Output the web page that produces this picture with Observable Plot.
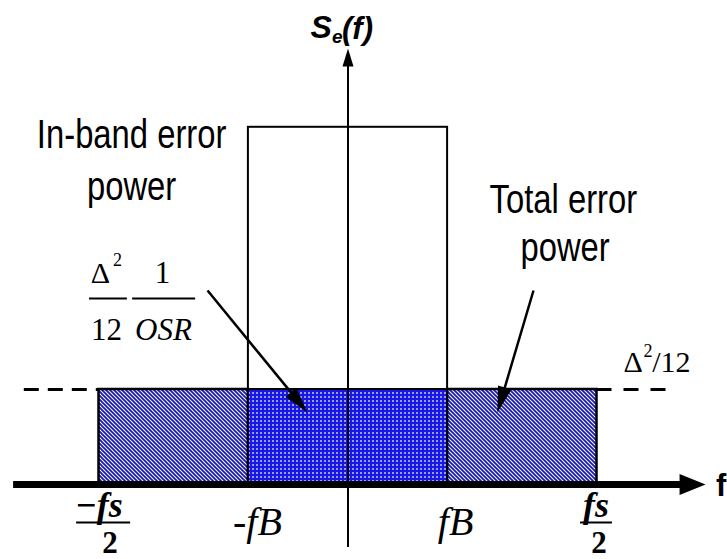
<!DOCTYPE html>
<html>
<head>
<meta charset="utf-8">
<script src="https://cdn.jsdelivr.net/npm/d3@7"></script>
<script src="https://cdn.jsdelivr.net/npm/@observablehq/plot@0.6"></script>
<style>
  html, body { margin: 0; padding: 0; background: white; }
</style>
</head>
<body>
<div id="chart"></div>
<script>
// ---- data (frequency in units of fs/2, density in units of Δ²/12) ----
const bandEdges = [-1, -0.4, 0.4, 1];            // −fs/2, −fB, fB, fs/2
const bandLabels = ["−fs/2", "−fB", "fB", "fs/2"];
const noiseLevel = 1;                            // Δ²/12
const inBandPeak = 3.76;                         // outlined tall block
const dashReach = 1.3;                           // dashed level extends to ±
const axisReach = 1.343;                         // horizontal axis half-length

// annotations (data units)
const textLabels = [
  {x: -0.869, y: 3.54, t: "In-band error"},
  {x: -0.869, y: 2.99, t: "power"},
  {x: 0.865, y: 2.86, t: "Total error"},
  {x: 0.872, y: 2.35, t: "power"}
];
const pointers = [
  {x1: -0.564, y1: 2.042, x2: -0.163, y2: 0.758},
  {x1: 0.745, y1: 2.042, x2: 0.600, y2: 0.758}
];

const W = 727, H = 559;
const xDomain = [-1.3956, 1.5241];
const yDomain = [-0.7895, 5.0947];
const sx = d3.scaleLinear(xDomain, [0, W]);
const sy = d3.scaleLinear(yDomain, [H, 0]);

const hatchRegions = [
  {x1: bandEdges[0], x2: bandEdges[1]},
  {x1: bandEdges[2], x2: bandEdges[3]}
];
const inBand = [{x1: bandEdges[1], x2: bandEdges[2]}];

function headSymbol(len, wid) {
  return {draw(ctx) { ctx.moveTo(0, 0); ctx.lineTo(wid / 2, len); ctx.lineTo(-wid / 2, len); ctx.closePath(); }};
}
// arrow geometry derived through the scales
const ptr = pointers.map(p => {
  const dx = sx(p.x2) - sx(p.x1), dy = sy(p.y2) - sy(p.y1);
  const L = Math.hypot(dx, dy);
  const ang = Math.atan2(dy, dx) * 180 / Math.PI + 90;
  const ex = sx.invert(sx(p.x2) - dx / L * 14), ey = sy.invert(sy(p.y2) - dy / L * 14);
  return {...p, ex, ey, ang};
});

const serif = "'Liberation Serif', 'Times New Roman', serif";
const sans = "'Liberation Sans', Arial, sans-serif";
const narrow = "'Liberation Sans', Arial, sans-serif, narrow";

const marks = [
  // noise blocks
  Plot.rect(hatchRegions, {x1: "x1", x2: "x2", y1: 0, y2: noiseLevel, fill: "url(#hatch)", stroke: "black", strokeWidth: 2.5}),
  Plot.rect(inBand, {x1: "x1", x2: "x2", y1: 0, y2: noiseLevel, fill: "url(#dots)", stroke: "black", strokeWidth: 2}),
  Plot.rect(inBand, {x1: "x1", x2: "x2", y1: noiseLevel, y2: inBandPeak, fill: "none", stroke: "black", strokeWidth: 2}),
  // dashed Δ²/12 level
  Plot.ruleY([noiseLevel], {x1: -dashReach, x2: bandEdges[0], stroke: "black", strokeWidth: 3, strokeDasharray: "15,9"}),
  Plot.ruleY([noiseLevel], {x1: bandEdges[3], x2: dashReach, stroke: "black", strokeWidth: 3, strokeDasharray: "15,12"}),
  // axes
  Plot.ruleX([0], {y1: -0.663, y2: 4.45, stroke: "black", strokeWidth: 2}),
  Plot.dot([{x: 0, y: 4.59}], {x: "x", y: "y", symbol: headSymbol(18, 11), fill: "black", stroke: "none"}),
  Plot.ruleY([0], {x1: -axisReach, x2: axisReach, stroke: "black", strokeWidth: 7}),
  Plot.dot([{x: 1.436, y: 0}], {x: "x", y: "y", symbol: headSymbol(26, 21), rotate: 90, fill: "black", stroke: "none"}),
  // pointers
  Plot.link(ptr, {x1: "x1", y1: "y1", x2: "ex", y2: "ey", stroke: "black", strokeWidth: 2.5}),
  Plot.dot(ptr, {x: "x2", y: "y2", symbol: headSymbol(26, 14), rotate: "ang", fill: "black", stroke: "none"}),
  // text labels (condensed after render)
  Plot.text(textLabels, {x: "x", y: "y", text: "t", fontFamily: narrow, fontSize: 40, lineAnchor: "bottom", textAnchor: "middle", fill: "black"}),
  // S_e(f)
  Plot.text(["S"], {x: -0.151, y: 4.705, text: d => d, fontFamily: sans, fontWeight: "bold", fontStyle: "italic", fontSize: 32, lineAnchor: "bottom", textAnchor: "start"}),
  Plot.text(["e"], {x: -0.064, y: 4.65, text: d => d, fontFamily: sans, fontWeight: "bold", fontStyle: "italic", fontSize: 19, lineAnchor: "bottom", textAnchor: "start"}),
  Plot.text(["(f)"], {x: -0.024, y: 4.69, text: d => d, fontFamily: sans, fontWeight: "bold", fontStyle: "italic", fontSize: 31, lineAnchor: "bottom", textAnchor: "start"}),
  // f axis label
  Plot.text(["f"], {x: 1.478, y: -0.12, text: d => d, fontFamily: sans, fontWeight: "bold", fontSize: 31, lineAnchor: "bottom", textAnchor: "start"}),
  // left formula Δ²/12 · 1/OSR
  Plot.text(["Δ"], {x: -0.994, y: 2.116, text: d => d, fontFamily: serif, fontSize: 30, lineAnchor: "bottom"}),
  Plot.text(["2"], {x: -0.926, y: 2.30, text: d => d, fontFamily: serif, fontSize: 18, lineAnchor: "bottom"}),
  Plot.text(["12"], {x: -0.970, y: 1.516, text: d => d, fontFamily: serif, fontSize: 31, lineAnchor: "bottom"}),
  Plot.text(["1"], {x: -0.745, y: 2.116, text: d => d, fontFamily: serif, fontSize: 31, lineAnchor: "bottom"}),
  Plot.text(["OSR"], {x: -0.741, y: 1.516, text: d => d, fontFamily: serif, fontStyle: "italic", fontSize: 31, lineAnchor: "bottom"}),
  Plot.ruleY([1.958], {x1: -1.038, x2: -0.886, stroke: "black", strokeWidth: 2}),
  Plot.ruleY([1.958], {x1: -0.865, x2: -0.612, stroke: "black", strokeWidth: 2}),
  // right formula Δ²/12
  Plot.text(["Δ"], {x: 1.106, y: 1.179, text: d => d, fontFamily: serif, fontSize: 30, lineAnchor: "bottom", textAnchor: "start"}),
  Plot.text(["2"], {x: 1.187, y: 1.34, text: d => d, fontFamily: serif, fontSize: 18, lineAnchor: "bottom", textAnchor: "start"}),
  Plot.text(["/12"], {x: 1.222, y: 1.179, text: d => d, fontFamily: serif, fontSize: 30, lineAnchor: "bottom", textAnchor: "start"}),
  // band edge labels: −fB, fB
  Plot.text([bandEdges[1]], {x: d => d, y: 0, dy: 51, dx: 9, text: [bandLabels[1].replace("−", "-")], fontFamily: serif, fontStyle: "italic", fontSize: 40, lineAnchor: "bottom"}),
  Plot.text([bandEdges[2]], {x: d => d, y: 0, dy: 51, dx: 8, text: [bandLabels[2]], fontFamily: serif, fontStyle: "italic", fontSize: 40, lineAnchor: "bottom"}),
  // ±fs/2 as stacked fractions
  Plot.text([bandEdges[0]], {x: d => d, y: 0, dy: 33, dx: -24, text: [bandLabels[0].split("/")[0]], fontFamily: serif, fontStyle: "italic", fontWeight: "bold", fontSize: 36, lineAnchor: "bottom", textAnchor: "start"}),
  Plot.text([bandEdges[3]], {x: d => d, y: 0, dy: 33, dx: -1, text: [bandLabels[3].split("/")[0]], fontFamily: serif, fontStyle: "italic", fontWeight: "bold", fontSize: 36, lineAnchor: "bottom"}),
  Plot.text([bandEdges[0]], {x: d => d, y: 0, dy: 69, dx: 11, text: [bandLabels[0].split("/")[1]], fontFamily: serif, fontWeight: "bold", fontSize: 31, lineAnchor: "bottom"}),
  Plot.text([bandEdges[3]], {x: d => d, y: 0, dy: 69, dx: 2, text: [bandLabels[3].split("/")[1]], fontFamily: serif, fontWeight: "bold", fontSize: 31, lineAnchor: "bottom"}),
  Plot.ruleY([0], {x1: -1.090, x2: -0.873, dy: 38, stroke: "black", strokeWidth: 2}),
  Plot.ruleY([0], {x1: 0.934, x2: 1.062, dy: 38, stroke: "black", strokeWidth: 2})
];

const chart = Plot.plot({
  width: W, height: H,
  marginTop: 0, marginRight: 0, marginBottom: 0, marginLeft: 0,
  x: {domain: xDomain, range: [0, W], axis: null},
  y: {domain: yDomain, range: [H, 0], axis: null},
  style: {background: "white"},
  marks
});

chart.insertAdjacentHTML("afterbegin", `
<defs>
  <pattern id="hatch" patternUnits="userSpaceOnUse" width="4" height="4">
    <rect width="4" height="4" fill="#ffffff"/>
    <path d="M0,0 L4,4 M-1,3 L1,5 M3,-1 L5,1" stroke="#1c1cb0" stroke-width="1.9"/>
  </pattern>
  <pattern id="dots" patternUnits="userSpaceOnUse" width="4" height="4">
    <rect width="4" height="4" fill="#1818e4"/>
    <rect x="0" y="0" width="2" height="2" fill="#9a9aff"/>
  </pattern>
</defs>`);

// condense the sans annotation labels (Arial Narrow look)
chart.querySelectorAll('g[font-family*="narrow"] text').forEach(t => {
  const tr = t.getAttribute("transform") || "";
  t.setAttribute("transform", tr + " scale(0.82,1)");
});

document.getElementById("chart").appendChild(chart);
</script>
</body>
</html>
